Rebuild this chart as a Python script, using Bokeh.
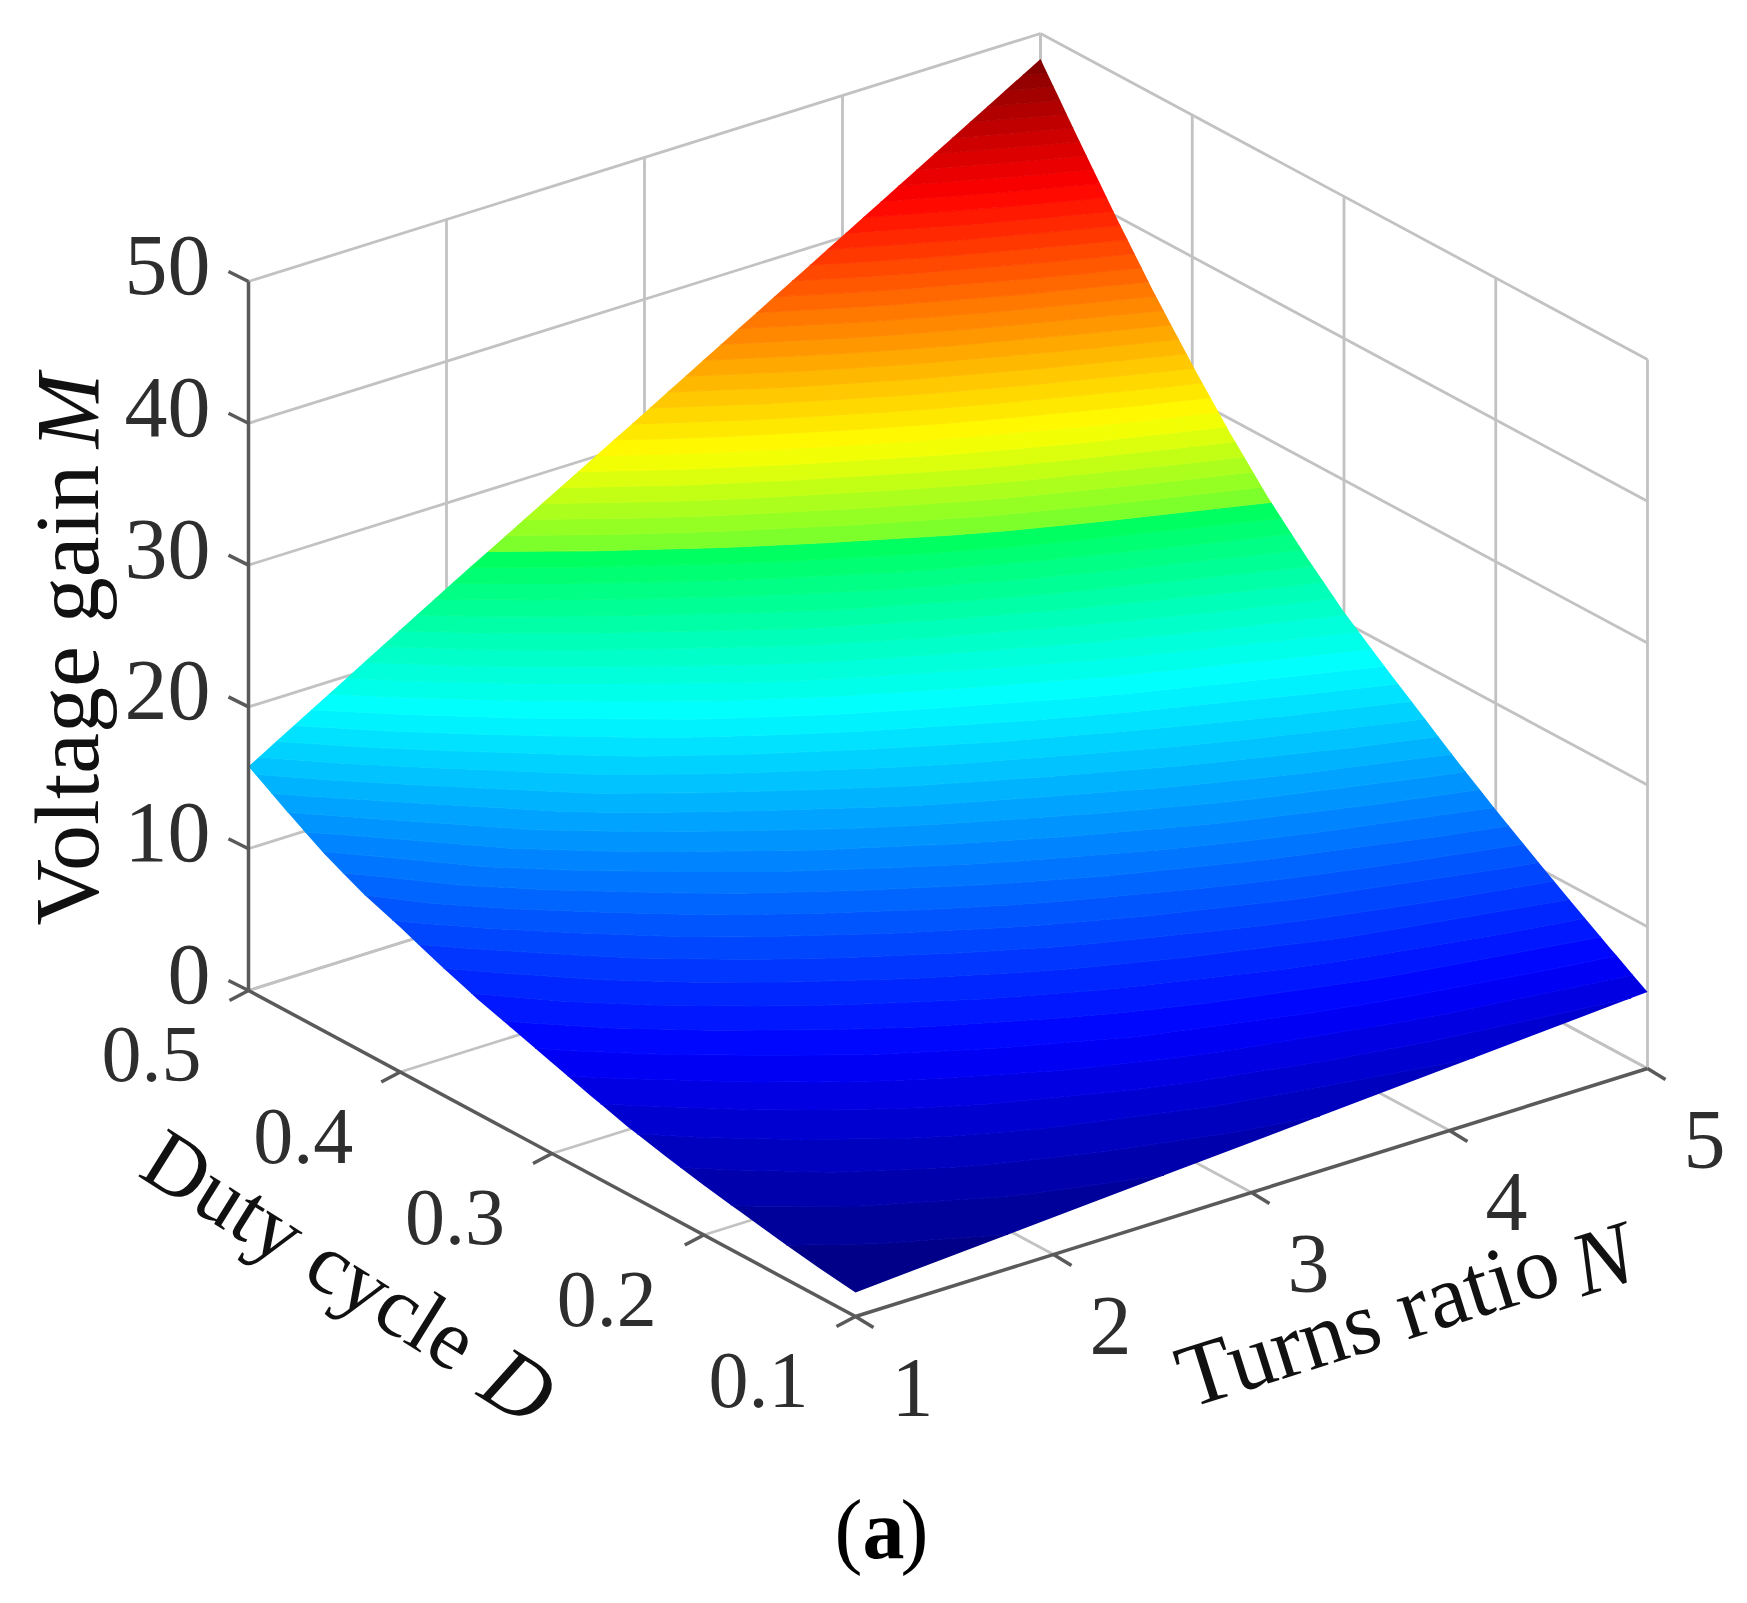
import numpy as np
from bokeh.embed import file_html
from bokeh.plotting import figure
from bokeh.resources import INLINE

# values
d_values = [0.1, 0.125, 0.15, 0.175, 0.2, 0.225, 0.25, 0.275, 0.3, 0.325, 0.35, 0.375, 0.4, 0.425, 0.45, 0.475, 0.5]
n_values = [1, 2, 3, 4, 5]
m_n1 = [1.7, 2.05, 2.5, 3.0, 3.5, 4.1, 4.75, 5.55, 6.4, 7.25, 8.1, 9.1, 10.2, 11.2, 12.5, 14.1, 15.8]
m_n2 = [2.63, 3.31, 4.09, 4.91, 5.75, 6.69, 7.69, 8.8, 9.98, 11.24, 12.55, 14.08, 15.75, 17.4, 19.4, 21.6, 24.0]
m_n3 = [3.55, 4.58, 5.68, 6.83, 8.0, 9.28, 10.63, 12.05, 13.55, 15.23, 17.0, 19.05, 21.3, 23.6, 26.2, 29.05, 32.0]
m_n4 = [4.48, 5.84, 7.26, 8.74, 10.25, 11.86, 13.56, 15.3, 17.13, 19.21, 21.45, 24.03, 26.85, 29.8, 33.05, 36.5, 40.1]
m_n5 = [5.4, 7.1, 8.85, 10.65, 12.5, 14.45, 16.5, 18.55, 20.7, 23.2, 25.9, 29.0, 32.4, 36.0, 39.9, 44.0, 48.2]

d_ticks = [0.5, 0.4, 0.3, 0.2, 0.1]
d_labels = ["0.5", "0.4", "0.3", "0.2", "0.1"]
n_ticks = [1, 2, 3, 4, 5]
n_labels = ["1", "2", "3", "4", "5"]
z_ticks = [0, 10, 20, 30, 40, 50]
z_labels = ["0", "10", "20", "30", "40", "50"]

FONT = "Liberation Serif"
GRID = "#c2c2c2"
AXIS = "#5a5a5a"


def project(d, n, z):
    # fixed camera of the 3d box, gives picture pixels
    d, n, z = np.asarray(d, float), np.asarray(n, float), np.asarray(z, float)
    px = 248 + 198 * (n - 1) + 1517.5 * (0.5 - d)
    py = 990 - 62 * (n - 1) + 815 * (0.5 - d) - 14.18 * z
    return px, py


def jet(t):
    stops = [(0, (0, 0, 128)), (0.11, (0, 0, 255)), (0.365, (0, 255, 255)), (0.5099, (0, 255, 95)),
             (0.51, (105, 255, 50)), (0.61, (255, 255, 0)), (0.86, (255, 0, 0)), (1, (128, 0, 0))]
    pos = [s[0] for s in stops]
    rgb = [np.interp(t, pos, [s[1][i] for s in stops]) for i in range(3)]
    return "#%02x%02x%02x" % tuple(int(round(c)) for c in rgb)


p = figure(width=1731, height=1587, x_range=(0, 1731), y_range=(1587, 0),
           output_backend="svg", toolbar_location=None, min_border=0)
p.axis.visible = False
p.grid.visible = False
p.outline_line_color = None

# walls and floor
xs, ys = [], []


def add_line(start, end):
    x, y = project([start[0], end[0]], [start[1], end[1]], [start[2], end[2]])
    xs.append(list(x))
    ys.append(list(y))


for z in z_ticks:
    add_line((0.5, 1, z), (0.5, 5, z))
    add_line((0.5, 5, z), (0.1, 5, z))
for n in n_ticks[1:]:
    add_line((0.5, n, 0), (0.5, n, 50))
    add_line((0.5, n, 0), (0.1, n, 0))
for d in d_ticks[:-1]:
    add_line((d, 5, 0), (d, 5, 50))
    add_line((d, 1, 0), (d, 5, 0))
add_line((0.1, 5, 0), (0.1, 5, 50))
p.multi_line(xs, ys, line_color=GRID, line_width=2.8)

# surface
D, N = np.meshgrid(d_values, n_values, indexing="ij")
M = np.array([m_n1, m_n2, m_n3, m_n4, m_n5]).T
X, Y = project(D, N, M)
levels = np.linspace(M.min() - 0.01, M.max() + 0.01, 65)
fills = [jet((i + 0.5) / 64) for i in range(64)]
p.contour(X, Y, M, levels=levels, fill_color=fills, line_color=fills + fills[-1:], line_width=1)

# axes
xs, ys = [], []
add_line((0.5, 1, 0), (0.5, 1, 50))
add_line((0.5, 1, 0), (0.1, 1, 0))
add_line((0.1, 1, 0), (0.1, 5, 0))
p.multi_line(xs, ys, line_color=AXIS, line_width=3.5)

zx, zy = project([0.5] * len(z_ticks), [1] * len(z_ticks), z_ticks)
p.segment(zx, zy, zx - 20, zy - 10, line_color=AXIS, line_width=3.5)
dx, dy = project(d_ticks, [1] * len(d_ticks), [0] * len(d_ticks))
p.segment(dx, dy, dx - 19, dy + 10, line_color=AXIS, line_width=3.5)
nx, ny = project([0.1] * len(n_ticks), n_ticks, [0] * len(n_ticks))
p.segment(nx, ny, nx + 18, ny + 11, line_color=AXIS, line_width=3.5)

# tick labels
tick_style = dict(text_font=FONT, text_color="#2e2e2e", text_baseline="middle")
p.text(zx - 38, zy - 16, text=z_labels, text_align="right", text_font_size="86px", **tick_style)
p.text(dx - 97, dy + 64, text=d_labels, text_align="center", text_font_size="80px", **tick_style)
p.text(nx + 57, ny + 71, text=n_labels, text_align="center", text_font_size="84px", **tick_style)

# axis titles, italic letter is a separate text
label_style = dict(text_font=FONT, text_color="#111111", text_baseline="alphabetic")
p.text([66], [925], text=["Voltage gain"], angle=np.pi / 2, text_font_size="92px", **label_style)
p.text([68], [448], text=["M"], angle=np.pi / 2, text_font_style="italic", text_font_size="90px", **label_style)
p.text([151], [1150], text=["Duty cycle"], angle=-np.radians(32), text_font_size="86px", **label_style)
p.text([491], [1368], text=["D"], angle=-np.radians(32), text_font_style="italic", text_font_size="90px", **label_style)
p.text([1179], [1379], text=["Turns ratio"], angle=np.radians(17.5), text_font_size="90px", **label_style)
p.text([1573], [1267], text=["N"], angle=np.radians(17.5), text_font_style="italic", text_font_size="90px", **label_style)

# panel mark
mark_style = dict(text_font=FONT, text_font_size="84px", text_color="#000000", text_baseline="alphabetic")
p.text([834], [1529], text=["("], **mark_style)
p.text([862], [1529], text=["a"], text_font_style="bold", **mark_style)
p.text([900], [1529], text=[")"], **mark_style)

open("out.html", "w").write(file_html(p, INLINE))
